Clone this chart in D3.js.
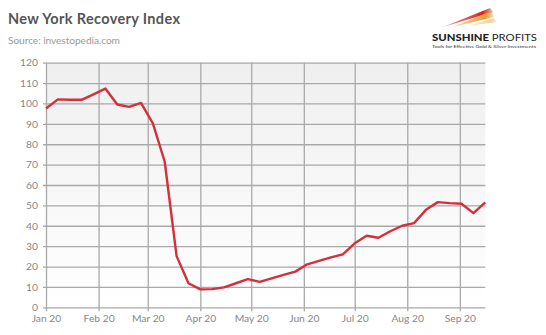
<!DOCTYPE html>
<html><head><meta charset="utf-8">
<script src="https://cdn.jsdelivr.net/npm/d3@7"></script>
<style>body{margin:0;background:#fff}svg{display:block}</style>
</head><body>
<script>
const dates = ["2020-01-01","2020-01-08","2020-01-15","2020-01-22","2020-01-29","2020-02-05","2020-02-12","2020-02-19","2020-02-26","2020-03-04","2020-03-11","2020-03-18","2020-03-25","2020-04-01","2020-04-08","2020-04-15","2020-04-22","2020-04-29","2020-05-06","2020-05-13","2020-05-20","2020-05-27","2020-06-03","2020-06-10","2020-06-17","2020-06-24","2020-07-01","2020-07-08","2020-07-15","2020-07-22","2020-07-29","2020-08-05","2020-08-12","2020-08-19","2020-08-26","2020-09-02","2020-09-09","2020-09-16"];
const values = [97.5,102,101.8,101.8,104.5,107.3,99.5,98.3,100.3,90.2,71.4,25.1,11.8,8.8,8.9,9.8,11.8,13.8,12.5,14.2,15.9,17.5,21.1,22.8,24.5,26,31.4,35.1,34.1,37.3,40,41.3,47.8,51.6,51.1,50.8,46.2,51.5];
const monthTicks = ["2020-01-01","2020-02-01","2020-03-01","2020-04-01","2020-05-01","2020-06-01","2020-07-01","2020-08-01","2020-09-01"];
const monthLabels = ["Jan 20","Feb 20","Mar 20","Apr 20","May 20","Jun 20","Jul 20","Aug 20","Sep 20"];
const yTicks = [0,10,20,30,40,50,60,70,80,90,100,110,120];

const W=546,H=335;
const parse=d3.utcParse("%Y-%m-%d");
const m={l:46,r:485.3,t:62.7,b:307.3};
const x=d3.scaleUtc().domain([parse("2020-01-01"),parse("2020-09-16")]).range([m.l,m.r]);
const y=d3.scaleLinear().domain([0,120]).range([m.b,m.t]);

const svg=d3.select("body").append("svg").attr("width",W).attr("height",H);
const defs=svg.append("defs");
const g=defs.append("linearGradient").attr("id","bg").attr("x1",0).attr("y1",0).attr("x2",0).attr("y2",1);
g.append("stop").attr("offset","0%").attr("stop-color","#efefef");
g.append("stop").attr("offset","100%").attr("stop-color","#ffffff");
function grad(id,c0,c1){
  const s=defs.append("linearGradient").attr("id",id).attr("x1",0).attr("y1",0).attr("x2",1).attr("y2",0);
  s.append("stop").attr("offset","0%").attr("stop-color",c0).attr("stop-opacity",0.5);
  s.append("stop").attr("offset","80%").attr("stop-color",c1).attr("stop-opacity",1);
  s.append("stop").attr("offset","100%").attr("stop-color",c1).attr("stop-opacity",0.3);
}
grad("sw1","#e04040","#d81e2a");
grad("sw2","#f0b050","#e89a30");
grad("sw3","#f5dcae","#f0cf98");

svg.append("rect").attr("x",m.l).attr("y",m.t).attr("width",m.r-m.l).attr("height",m.b-m.t).attr("fill","url(#bg)");

// title
svg.append("text").attr("x",8).attr("y",24).text("New York Recovery Index")
  .attr("font-family","Lato").attr("font-weight","bold").attr("font-size",14.5).attr("fill","#555")
  .attr("textLength",172).attr("lengthAdjust","spacing");
svg.append("text").attr("x",8).attr("y",43.5).text("Source: investopedia.com")
  .attr("font-family","Lato").attr("font-size",10.2).attr("fill","#999")
  .attr("textLength",112).attr("lengthAdjust","spacing");

// grid
const gridCol="#a9a9a9";
const yAxis=d3.axisLeft(y).tickValues(yTicks).tickSize(-(m.r-m.l)).tickPadding(7);
const ya=svg.append("g").attr("transform",`translate(${m.l},0)`).call(yAxis);
ya.select(".domain").remove();
ya.selectAll(".tick line").attr("stroke",gridCol).attr("stroke-width",1.3).attr("x1",-3);
ya.selectAll(".tick text").attr("font-family","Lato").attr("font-size",10.3).attr("fill","#888").attr("x",-8);

const xAxis=d3.axisBottom(x).tickValues(monthTicks.map(parse)).tickFormat((d,i)=>monthLabels[i]).tickSize(-(m.b-m.t)).tickPadding(7);
const xa=svg.append("g").attr("transform",`translate(0,${m.b})`).call(xAxis);
xa.select(".domain").remove();
xa.selectAll(".tick line").attr("stroke",gridCol).attr("stroke-width",1.3).attr("y1",4);
xa.selectAll(".tick text").attr("font-family","Lato").attr("font-size",10.3).attr("fill","#888");

// line
const line=d3.line().x((d,i)=>x(parse(dates[i]))).y(d=>y(d));
svg.append("path").datum(values).attr("d",line).attr("fill","none").attr("stroke","#d42f3c").attr("stroke-width",2.4).attr("stroke-linejoin","round");

// logo
const lg=svg.append("g");
lg.append("path").attr("d","M443,27 L490,8 L493,12 Z").attr("fill","url(#sw1)");
lg.append("path").attr("d","M453,27 L491,11 L494,17 Z").attr("fill","url(#sw2)");
lg.append("path").attr("d","M467,26 L494,18 L497,22 Z").attr("fill","url(#sw3)");
const t=lg.append("text").attr("x",432).attr("y",41).attr("font-family","Lato").attr("font-size",10).attr("fill","#222")
  .attr("textLength",105).attr("lengthAdjust","spacingAndGlyphs");
t.append("tspan").attr("font-weight","900").text("SUNSHINE ");
t.append("tspan").attr("font-weight","normal").text("PROFITS");
lg.append("text").attr("x",432).attr("y",47.5).attr("font-family","Lato").attr("font-size",4.3).attr("fill","#333")
  .attr("textLength",104).attr("lengthAdjust","spacingAndGlyphs").text("Tools for Effective Gold & Silver Investments");
</script>
</body></html>
